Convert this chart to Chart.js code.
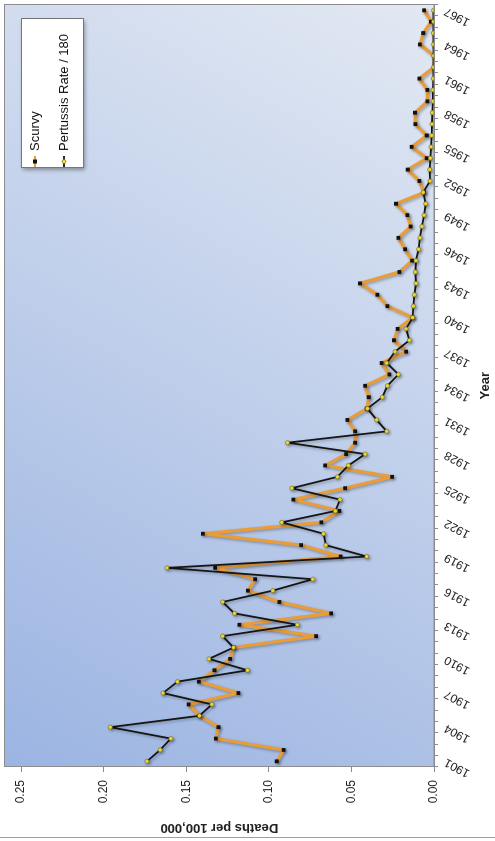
<!DOCTYPE html>
<html><head><meta charset="utf-8">
<script src="https://cdn.jsdelivr.net/npm/chart.js@4/dist/chart.umd.min.js"></script>
<style>
html,body{margin:0;padding:0;background:#fff;overflow:hidden;}
#page{position:relative;width:495px;height:841px;overflow:hidden;background:#fff;}
#rot{position:absolute;left:0;top:0;width:841px;height:495px;transform-origin:0 0;transform:translate(0,841px) rotate(-90deg);}
canvas{display:block;}
</style></head><body>
<div id="page"><div id="rot"><canvas id="c" width="841" height="495"></canvas></div></div>
<script>
const years = ['1901','1902','1903','1904','1905','1906','1907','1908','1909','1910',
  '1911','1912','1913','1914','1915','1916','1917','1918','1919','1920',
  '1921','1922','1923','1924','1925','1926','1927','1928','1929','1930',
  '1931','1932','1933','1934','1935','1936','1937','1938','1939','1940',
  '1941','1942','1943','1944','1945','1946','1947','1948','1949','1950',
  '1951','1952','1953','1954','1955','1956','1957','1958','1959','1960',
  '1961','1962','1963','1964','1965','1966','1967'];
const yearLabelsShown = ['1901','1904','1907','1910','1913','1916','1919','1922','1925','1928',
  '1931','1934','1937','1940','1943','1946','1949','1952','1955','1958','1961','1964','1967'];
const scurvy = [0.0952,0.0911,0.1321,0.1305,0.1420,0.1486,0.1184,0.1424,0.1329,0.1234,
  0.1214,0.0714,0.1178,0.0623,0.0936,0.1127,0.1083,0.1325,0.0565,0.0805,
  0.1400,0.0682,0.0573,0.0851,0.0538,0.0254,0.0659,0.0532,0.0478,0.0478,
  0.0524,0.0407,0.0395,0.0417,0.0270,0.0317,0.0169,0.0242,0.0220,0.0129,
  0.0282,0.0343,0.0448,0.0210,0.0133,0.0175,0.0216,0.0141,0.0161,0.0230,
  0.0060,0.0089,0.0159,0.0044,0.0135,0.0044,0.0113,0.0115,0.0040,0.0040,
  0.0089,0.0000,0.0000,0.0085,0.0065,0.0018,0.0060];
const pertussis = [0.1738,0.1658,0.1593,0.1960,0.1420,0.1345,0.1641,0.1553,0.1129,0.1363,
  0.1214,0.1280,0.0827,0.1208,0.1280,0.0976,0.0734,0.1617,0.0407,0.0655,
  0.0669,0.0922,0.0597,0.0569,0.0861,0.0585,0.0518,0.0417,0.0887,0.0286,
  0.0347,0.0403,0.0313,0.0282,0.0216,0.0286,0.0236,0.0149,0.0169,0.0129,
  0.0125,0.0119,0.0109,0.0113,0.0109,0.0093,0.0085,0.0073,0.0060,0.0050,
  0.0065,0.0024,0.0026,0.0022,0.0018,0.0014,0.0012,0.0010,0.0006,0.0006,
  0.0004,0.0003,0.0002,0.0003,0.0004,0.0003,0.0003];
const valueTicks = [0, 0.05, 0.10, 0.15, 0.20, 0.25];
const valueMax = 0.26;
const seriesNames = ['Scurvy', 'Pertussis Rate / 180'];

Chart.defaults.font.family = "'Liberation Sans', Arial, sans-serif";
Chart.defaults.color = '#222';

const bgPlugin = {
  id: 'bg',
  beforeDraw(chart) {
    const {ctx, chartArea: a} = chart;
    ctx.save();
    const g = ctx.createLinearGradient(a.left, a.top, a.right, a.bottom);
    g.addColorStop(0, '#9bb4e2');
    g.addColorStop(1, '#e3e9f3');
    ctx.fillStyle = g;
    ctx.fillRect(a.left, a.top, a.right - a.left, a.bottom - a.top);
    ctx.restore();
  },
  afterDraw(chart) {
    const {ctx, chartArea: a} = chart;
    ctx.save();
    ctx.strokeStyle = '#8c8c8c';
    ctx.lineWidth = 1;
    ctx.strokeRect(Math.round(a.left) + 0.5, Math.round(a.top) - 0.5, Math.round(a.right - a.left), Math.round(a.bottom - a.top) + 0.5);
    ctx.strokeStyle = '#a0a0a0';
    ctx.beginPath(); ctx.moveTo(3.5, 0); ctx.lineTo(3.5, chart.height); ctx.stroke();
    // legend
    const bx = 673, by = 21, bw = 149, bh = 62;
    ctx.save();
    ctx.shadowColor = 'rgba(0,0,0,0.35)'; ctx.shadowBlur = 4; ctx.shadowOffsetX = -2; ctx.shadowOffsetY = 2;
    ctx.fillStyle = '#ffffff';
    ctx.fillRect(bx, by, bw, bh);
    ctx.restore();
    ctx.strokeStyle = '#777';
    ctx.strokeRect(bx + 0.5, by + 0.5, bw, bh);
    const rows = [35, 64];
    seriesNames.forEach((name, i) => {
      const ds = chart.data.datasets.find(d => d.label === name);
      const cy = rows[i];
      ctx.strokeStyle = ds.borderColor; ctx.lineWidth = Math.min(ds.borderWidth, 2);
      ctx.beginPath(); ctx.moveTo(674, cy); ctx.lineTo(685, cy); ctx.stroke();
      ctx.fillStyle = ds.pointBackgroundColor; ctx.strokeStyle = ds.pointBorderColor; ctx.lineWidth = 0.6;
      if (ds.pointStyle === 'rect') { ctx.fillRect(677.5, cy - 2, 4, 4); }
      else { ctx.beginPath(); ctx.arc(679.5, cy, 2, 0, Math.PI * 2); ctx.fill(); ctx.stroke(); }
      ctx.fillStyle = '#111'; ctx.font = "13px 'Liberation Sans', Arial, sans-serif";
      ctx.textBaseline = 'middle'; ctx.textAlign = 'left';
      ctx.fillText(name, 690, cy + 0.5);
    });
    ctx.restore();
  },
  beforeDatasetDraw(chart) {
    const ctx = chart.ctx;
    ctx.save();
    ctx.shadowColor = 'rgba(0,0,0,0.3)'; ctx.shadowBlur = 3; ctx.shadowOffsetX = -1.5; ctx.shadowOffsetY = 1.5;
  },
  afterDatasetDraw(chart) { chart.ctx.restore(); }
};

new Chart(document.getElementById('c'), {
  type: 'line',
  data: {
    labels: years,
    datasets: [
      { label: seriesNames[1], data: pertussis, borderColor: '#151515', borderWidth: 1.8,
        borderJoinStyle: 'round', borderCapStyle: 'round',
        pointStyle: 'circle', pointRadius: 2.1, pointBackgroundColor: '#f3e03c', pointBorderColor: '#6f6410',
        pointBorderWidth: 0.6, tension: 0, fill: false },
      { label: seriesNames[0], data: scurvy, borderColor: '#e89d3a', borderWidth: 3.2,
        borderJoinStyle: 'round', borderCapStyle: 'round',
        pointStyle: 'rect', pointRadius: 2.7, pointBackgroundColor: '#111', pointBorderColor: '#111',
        pointBorderWidth: 0, tension: 0, fill: false }
    ]
  },
  options: {
    responsive: false, animation: false, devicePixelRatio: 1,
    layout: { padding: { top: 3, right: 3, left: 0, bottom: 0 } },
    plugins: { legend: { display: false }, tooltip: { enabled: false } },
    scales: {
      x: {
        type: 'category', offset: true,
        grid: { display: true, offset: true, drawOnChartArea: false, tickLength: 4, color: '#8c8c8c' },
        border: { color: '#8c8c8c' },
        ticks: { autoSkip: false, minRotation: 62, maxRotation: 62, padding: 4, color: '#222',
          font: { size: 12 },
          callback: (v, i) => (yearLabelsShown.includes(years[i]) ? years[i] : '') },
        title: { display: true, text: 'Year', color: '#222', font: { size: 13, weight: 'bold' }, padding: { top: 0, bottom: 2 } },
        afterFit: s => { s.height = 61; s.paddingLeft = 0; s.paddingRight = 0; }
      },
      y: {
        min: 0, max: valueMax,
        grid: { display: true, drawOnChartArea: false, tickLength: 5, color: '#8c8c8c' },
        border: { color: '#8c8c8c' },
        ticks: { padding: 8, color: '#222', font: { size: 12 }, callback: v => Number(v).toFixed(2) },
        afterBuildTicks: s => { s.ticks = valueTicks.map(v => ({ value: v })); },
        title: { display: true, text: 'Deaths per 100,000', color: '#222', font: { size: 13, weight: 'bold' }, padding: { top: 6, bottom: 0 } },
        afterFit: s => { s.width = 74; s.paddingTop = 0; s.paddingBottom = 0; }
      }
    }
  },
  plugins: [bgPlugin]
});
</script>
</body></html>
